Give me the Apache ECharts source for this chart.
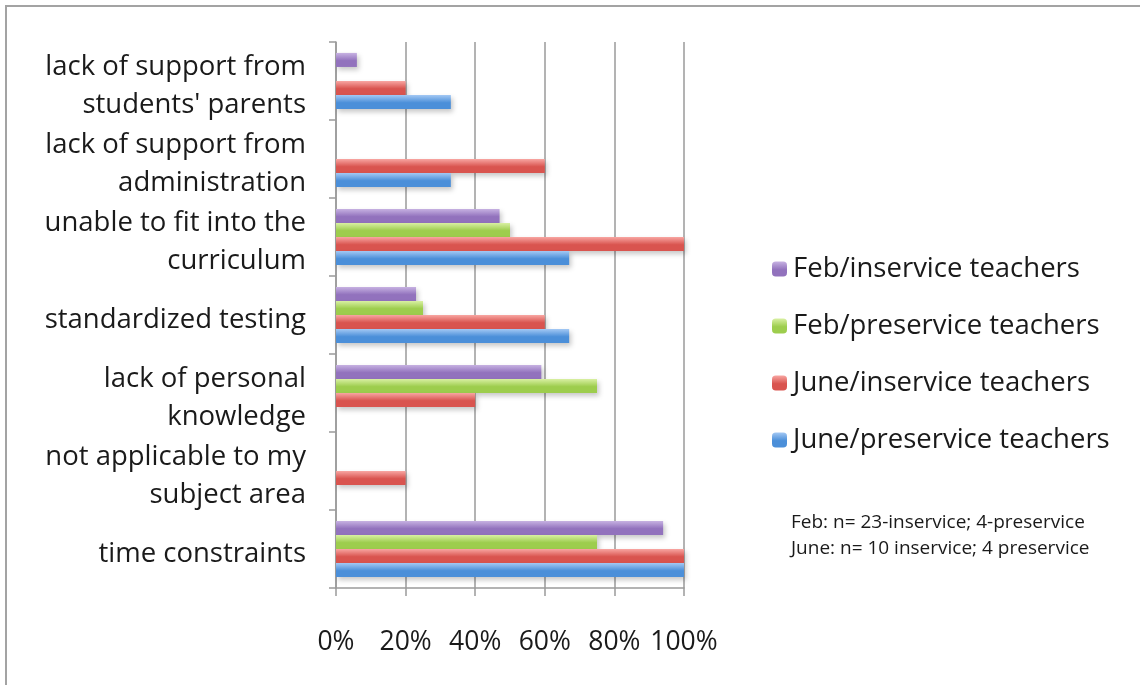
<!DOCTYPE html>
<html>
<head>
<meta charset="utf-8">
<script src="https://cdn.jsdelivr.net/npm/echarts@6/dist/echarts.min.js"></script>
<style>
  html, body { margin: 0; padding: 0; background: #fff; }
  #chart { width: 1140px; height: 685px; }
</style>
</head>
<body>
<div id="chart"></div>
<script>
// Barriers reported by teachers, bottom category first
const categories = [
  'time constraints',
  'not applicable to my\nsubject area',
  'lack of personal\nknowledge',
  'standardized testing',
  'unable to fit into the\ncurriculum',
  'lack of support from\nadministration',
  "lack of support from\nstudents' parents"
];

// Series in legend order (top bar of each group first)
const seriesNames = [
  'Feb/inservice teachers',
  'Feb/preservice teachers',
  'June/inservice teachers',
  'June/preservice teachers'
];

// Percent of respondents per category
const febInservice   = [94, 0, 59, 23, 47, 0, 6];
const febPreservice  = [75, 0, 75, 25, 50, 0, 0];
const juneInservice  = [100, 20, 40, 60, 100, 60, 20];
const junePreservice = [100, 0, 0, 67, 67, 33, 33];

const xTicks = [0, 20, 40, 60, 80, 100];

const sampleNote = [
  'Feb: n= 23-inservice; 4-preservice',
  'June: n= 10 inservice; 4 preservice'
];

const values = [febInservice, febPreservice, juneInservice, junePreservice];

// top / bottom tones of each bar's gloss
const tones = [
  ['#c7b2e2', '#9272bd'],
  ['#d9f0a3', '#9dcd4d'],
  ['#f8a6a2', '#d9544f'],
  ['#a3c8f4', '#4b8fd9']
];

function gloss(pair) {
  return new echarts.graphic.LinearGradient(0, 0, 0, 1, [
    { offset: 0, color: pair[0] },
    { offset: 0.55, color: pair[1] },
    { offset: 1, color: pair[1] }
  ]);
}

const fontFamily = '"Open Sans", Lato, sans-serif';

// category labels: a thin spacer line on top nudges each block slightly down
function categoryLabel(value) {
  return '{s| }\n' + value.split('\n').map(t => '{t|' + t + '}').join('\n');
}

const chart = echarts.init(document.getElementById('chart'));
chart.setOption({
  backgroundColor: '#ffffff',
  animation: false,
  textStyle: { fontFamily: fontFamily },
  grid: { left: 336, right: 456, top: 42, bottom: 97 },
  legend: {
    orient: 'vertical',
    left: 767,
    top: 250,
    itemWidth: 15,
    itemHeight: 15,
    itemGap: 29,
    data: seriesNames,
    textStyle: { fontSize: 27.5, color: '#1a1a1a', fontFamily: fontFamily, padding: [0, 0, 0, 1] }
  },
  xAxis: {
    type: 'value',
    min: xTicks[0],
    max: xTicks[xTicks.length - 1],
    interval: 20,
    axisLine: { show: true, lineStyle: { color: '#9a9a9a', width: 1.5 } },
    axisTick: { show: true, length: 8, lineStyle: { color: '#9a9a9a', width: 1.5 } },
    splitLine: { show: true, lineStyle: { color: '#9a9a9a', width: 1.5 } },
    axisLabel: {
      formatter: '{value}%',
      fontSize: 26.5,
      color: '#1a1a1a',
      margin: 41
    }
  },
  yAxis: {
    type: 'category',
    data: categories,
    axisLine: { show: true, lineStyle: { color: '#9a9a9a', width: 1.5 } },
    axisTick: { show: true, length: 7, lineStyle: { color: '#9a9a9a', width: 1.5 } },
    splitLine: { show: false },
    axisLabel: {
      interval: 0,
      showMinLabel: true,
      showMaxLabel: true,
      hideOverlap: false,
      margin: 30,
      align: 'right',
      formatter: categoryLabel,
      rich: {
        s: { fontSize: 1, lineHeight: 11 },
        t: { fontSize: 27.5, lineHeight: 38, color: '#1a1a1a', fontFamily: fontFamily }
      }
    }
  },
  graphic: [
    {
      type: 'rect',
      shape: { x: 6, y: 6, width: 1200, height: 760 },
      style: { fill: 'none', stroke: '#a3a3a3', lineWidth: 2 },
      silent: true
    },
    {
      type: 'text',
      left: 791,
      top: 510,
      style: {
        text: sampleNote.join('\n'),
        fontSize: 19,
        lineHeight: 26,
        fill: '#1a1a1a',
        fontFamily: fontFamily
      }
    }
  ],
  series: seriesNames.map((name, i) => ({
    name: name,
    type: 'bar',
    data: values[i],
    barGap: '0%',
    barCategoryGap: '28%',
    itemStyle: {
      color: gloss(tones[i]),
      shadowColor: 'rgba(0,0,0,0.22)',
      shadowBlur: 5,
      shadowOffsetX: 2,
      shadowOffsetY: 3
    }
  }))
});
</script>
</body>
</html>
